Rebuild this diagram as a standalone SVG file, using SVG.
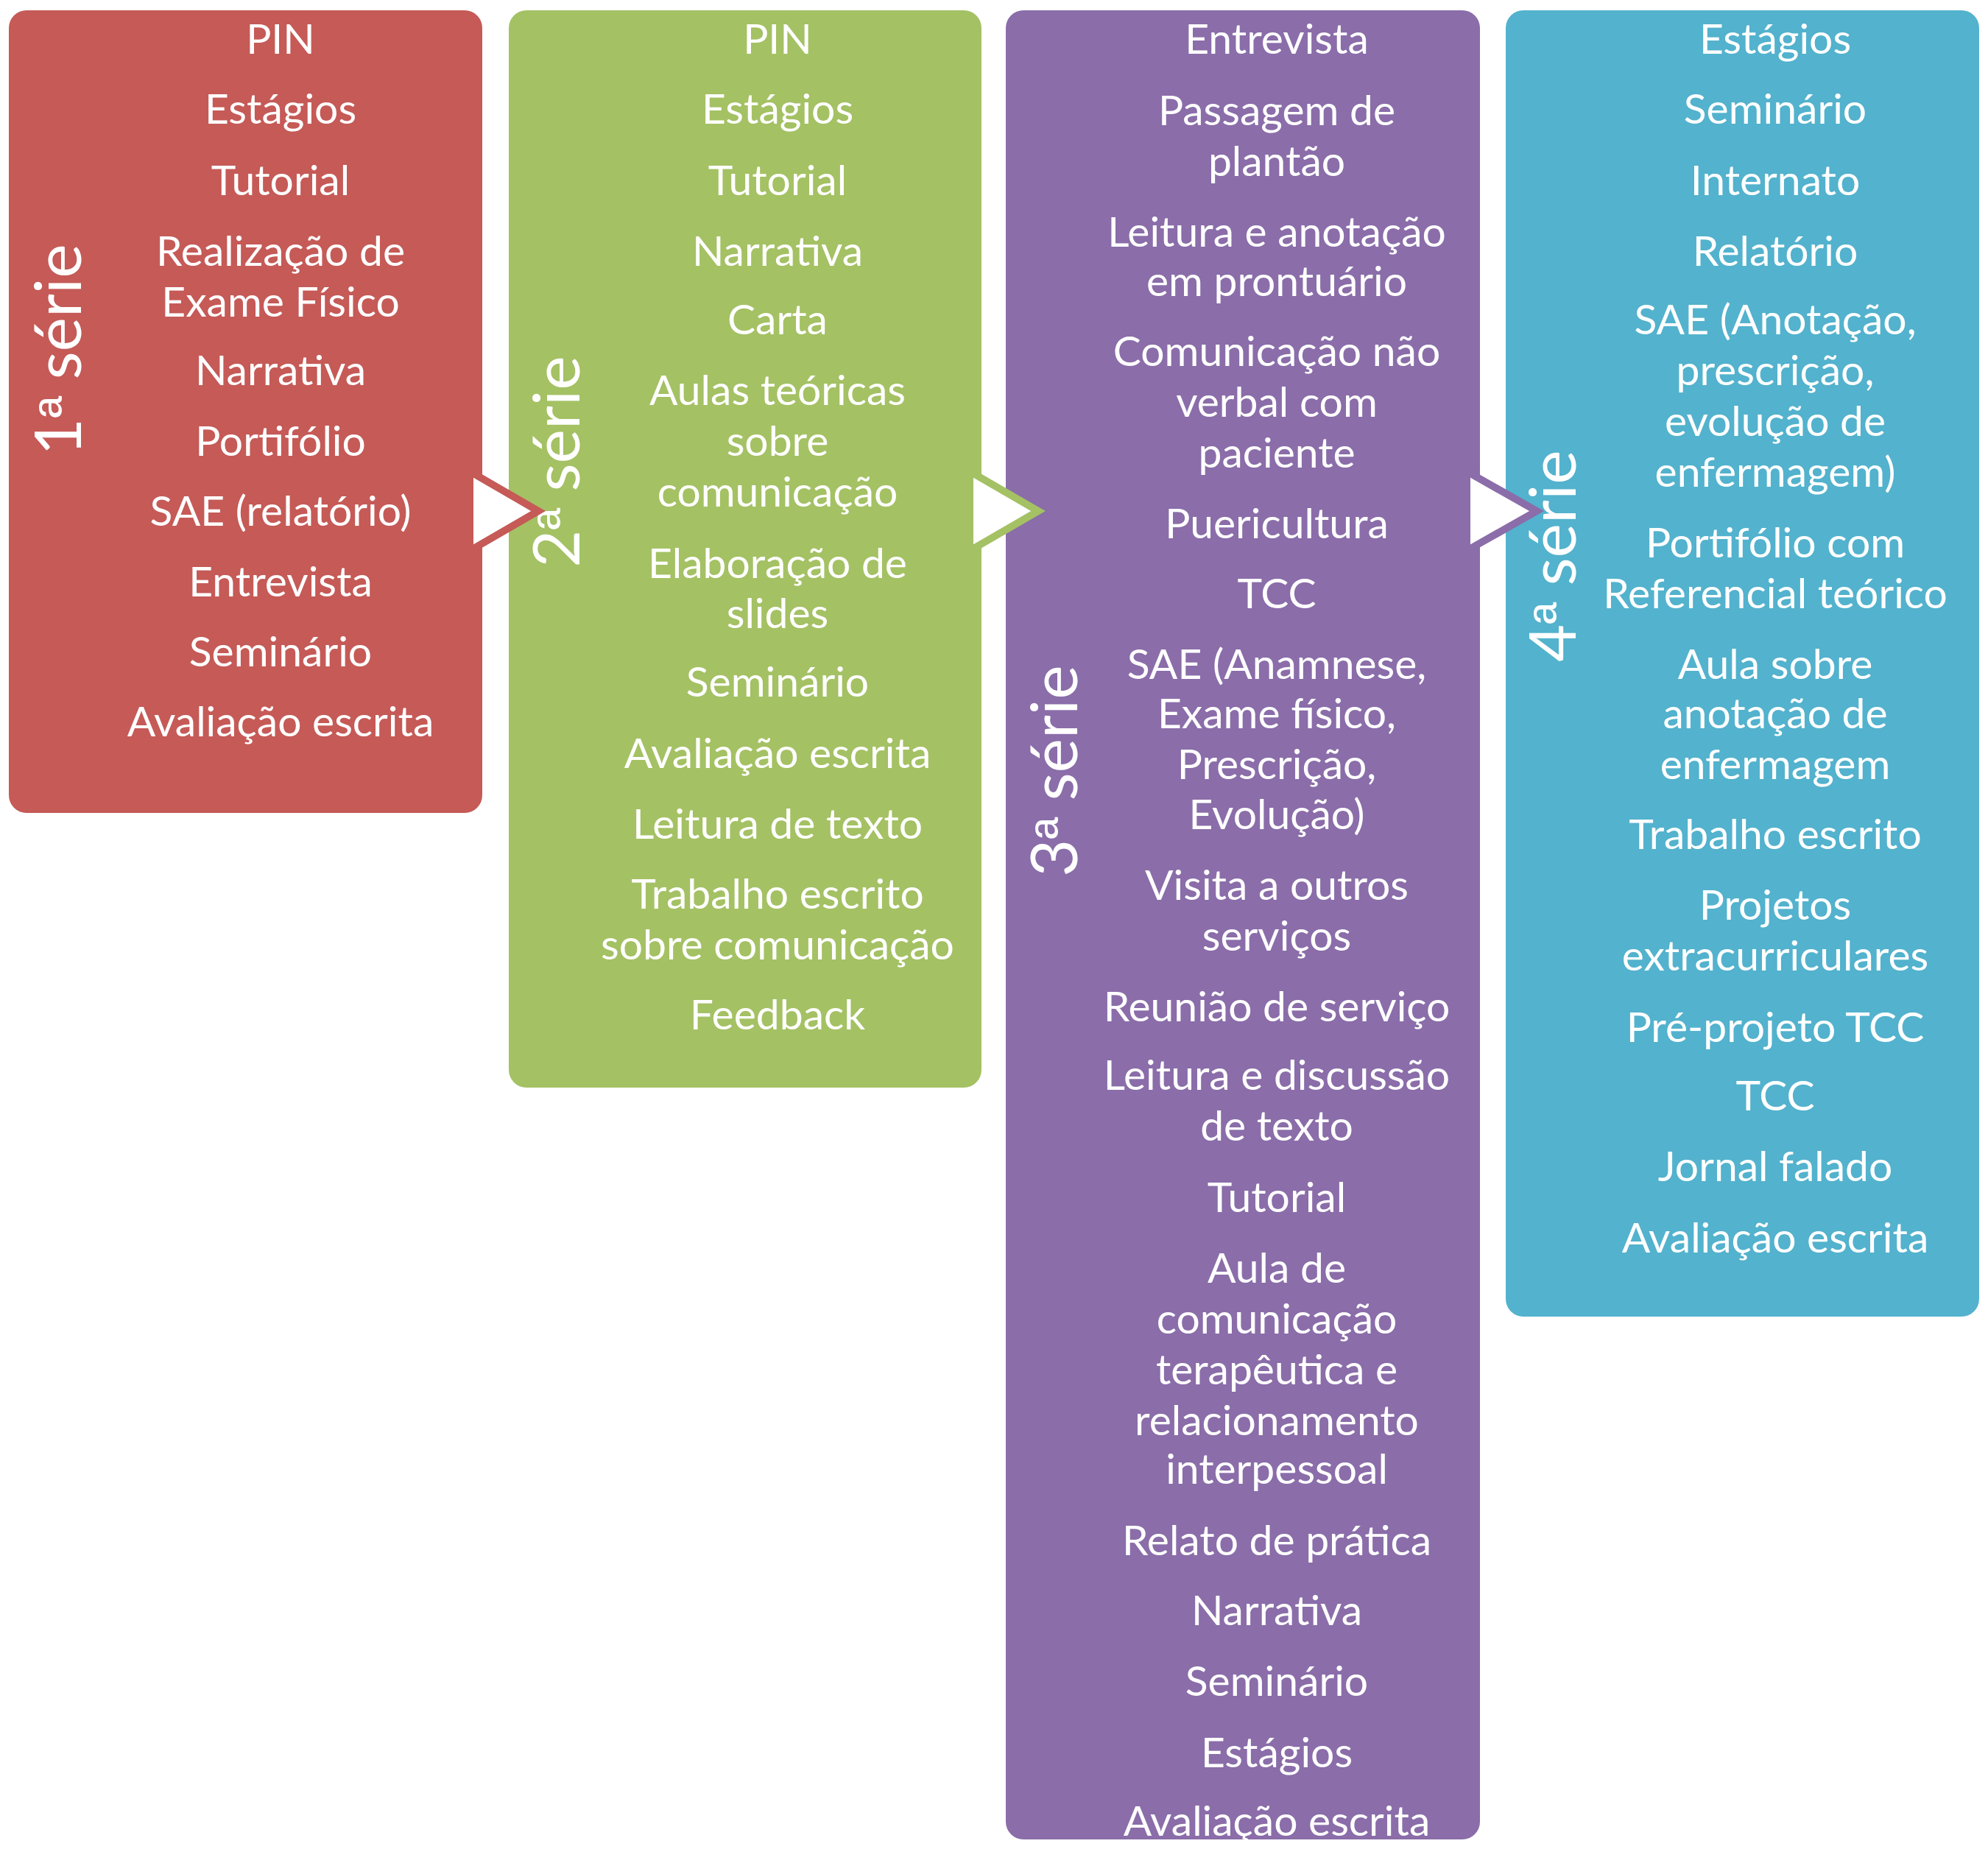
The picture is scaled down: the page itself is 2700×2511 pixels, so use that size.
<svg xmlns="http://www.w3.org/2000/svg" width="2700" height="2511" viewBox="0 0 2700 2511">
<style>
.box{stroke:none}
.t{font-family:Lato,"Liberation Sans",sans-serif;font-size:57px;fill:#fff;text-anchor:middle}
.lbl{font-family:Lato,"Liberation Sans",sans-serif;font-size:88px;fill:#fff;text-anchor:middle}
.o{font-family:"Liberation Sans",sans-serif;font-size:80px}
.arr{fill:#fff;stroke-width:10;stroke-linejoin:miter;stroke-linecap:butt}
</style>
<rect width="2700" height="2511" fill="#fff"/>
<g id="serie1">
<rect class="box" x="12" y="14" width="643" height="1090" rx="24" fill="#C55A57"/>
<text class="lbl" transform="translate(110,475) rotate(-90)">1<tspan class="o">ª</tspan> série</text>
<text class="t" x="381"><tspan x="381" y="73">PIN</tspan><tspan x="381" y="168">Estágios</tspan><tspan x="381" y="265">Tutorial</tspan><tspan x="381" y="361">Realização de</tspan><tspan x="381" y="430">Exame Físico</tspan><tspan x="381" y="523">Narrativa</tspan><tspan x="381" y="619">Portifólio</tspan><tspan x="381" y="714">SAE (relatório)</tspan><tspan x="381" y="810">Entrevista</tspan><tspan x="381" y="905">Seminário</tspan><tspan x="381" y="1000">Avaliação escrita</tspan></text>
</g>
<g id="serie2">
<rect class="box" x="691" y="14" width="642" height="1463" rx="24" fill="#A4C164"/>
<text class="lbl" transform="translate(787,627) rotate(-90)">2<tspan class="o">ª</tspan> série</text>
<text class="t"><tspan x="1056" y="73">PIN</tspan><tspan x="1056" y="168">Estágios</tspan><tspan x="1056" y="265">Tutorial</tspan><tspan x="1056" y="361">Narrativa</tspan><tspan x="1056" y="454">Carta</tspan><tspan x="1056" y="550">Aulas teóricas</tspan><tspan x="1056" y="619">sobre</tspan><tspan x="1056" y="688">comunicação</tspan><tspan x="1056" y="785">Elaboração de</tspan><tspan x="1056" y="853">slides</tspan><tspan x="1056" y="946">Seminário</tspan><tspan x="1056" y="1043">Avaliação escrita</tspan><tspan x="1056" y="1139">Leitura de texto</tspan><tspan x="1056" y="1234">Trabalho escrito</tspan><tspan x="1056" y="1303">sobre comunicação</tspan><tspan x="1056" y="1398">Feedback</tspan></text>
</g>
<g id="serie3">
<rect class="box" x="1366" y="14" width="644" height="2484" rx="24" fill="#8A6DA9"/>
<text class="lbl" transform="translate(1463,1047) rotate(-90)">3<tspan class="o">ª</tspan> série</text>
<text class="t"><tspan x="1734" y="73">Entrevista</tspan><tspan x="1734" y="170">Passagem de</tspan><tspan x="1734" y="239">plantão</tspan><tspan x="1734" y="335">Leitura e anotação</tspan><tspan x="1734" y="402">em prontuário</tspan><tspan x="1734" y="497">Comunicação não</tspan><tspan x="1734" y="566">verbal com</tspan><tspan x="1734" y="635">paciente</tspan><tspan x="1734" y="731">Puericultura</tspan><tspan x="1734" y="826">TCC</tspan><tspan x="1734" y="922">SAE (Anamnese,</tspan><tspan x="1734" y="989">Exame físico,</tspan><tspan x="1734" y="1058">Prescrição,</tspan><tspan x="1734" y="1126">Evolução)</tspan><tspan x="1734" y="1222">Visita a outros</tspan><tspan x="1734" y="1291">serviços</tspan><tspan x="1734" y="1387">Reunião de serviço</tspan><tspan x="1734" y="1480">Leitura e discussão</tspan><tspan x="1734" y="1549">de texto</tspan><tspan x="1734" y="1646">Tutorial</tspan><tspan x="1734" y="1742">Aula de</tspan><tspan x="1734" y="1811">comunicação</tspan><tspan x="1734" y="1880">terapêutica e</tspan><tspan x="1734" y="1949">relacionamento</tspan><tspan x="1734" y="2015">interpessoal</tspan><tspan x="1734" y="2112">Relato de prática</tspan><tspan x="1734" y="2207">Narrativa</tspan><tspan x="1734" y="2303">Seminário</tspan><tspan x="1734" y="2400">Estágios</tspan><tspan x="1734" y="2493">Avaliação escrita</tspan></text>
</g>
<g id="serie4">
<rect class="box" x="2045" y="14" width="643" height="1774" rx="24" fill="#53B2CD"/>
<text class="lbl" transform="translate(2140,755) rotate(-90)">4<tspan class="o">ª</tspan> série</text>
<text class="t"><tspan x="2411" y="73">Estágios</tspan><tspan x="2411" y="168">Seminário</tspan><tspan x="2411" y="265">Internato</tspan><tspan x="2411" y="361">Relatório</tspan><tspan x="2411" y="454">SAE (Anotação,</tspan><tspan x="2411" y="523">prescrição,</tspan><tspan x="2411" y="592">evolução de</tspan><tspan x="2411" y="661">enfermagem)</tspan><tspan x="2411" y="757">Portifólio com</tspan><tspan x="2411" y="826">Referencial teórico</tspan><tspan x="2411" y="922">Aula sobre</tspan><tspan x="2411" y="989">anotação de</tspan><tspan x="2411" y="1058">enfermagem</tspan><tspan x="2411" y="1153">Trabalho escrito</tspan><tspan x="2411" y="1249">Projetos</tspan><tspan x="2411" y="1318">extracurriculares</tspan><tspan x="2411" y="1415">Pré-projeto TCC</tspan><tspan x="2411" y="1508">TCC</tspan><tspan x="2411" y="1604">Jornal falado</tspan><tspan x="2411" y="1701">Avaliação escrita</tspan></text>
</g>
<g id="connectors">
<path class="arr" d="M643,643 L731,694 L643,745" stroke="#C55A57"/>
<path class="arr" d="M1322,643 L1410,694 L1322,745" stroke="#A4C164"/>
<path class="arr" d="M1997,643 L2087,694 L1997,745" stroke="#8A6DA9"/>
</g>
</svg>
